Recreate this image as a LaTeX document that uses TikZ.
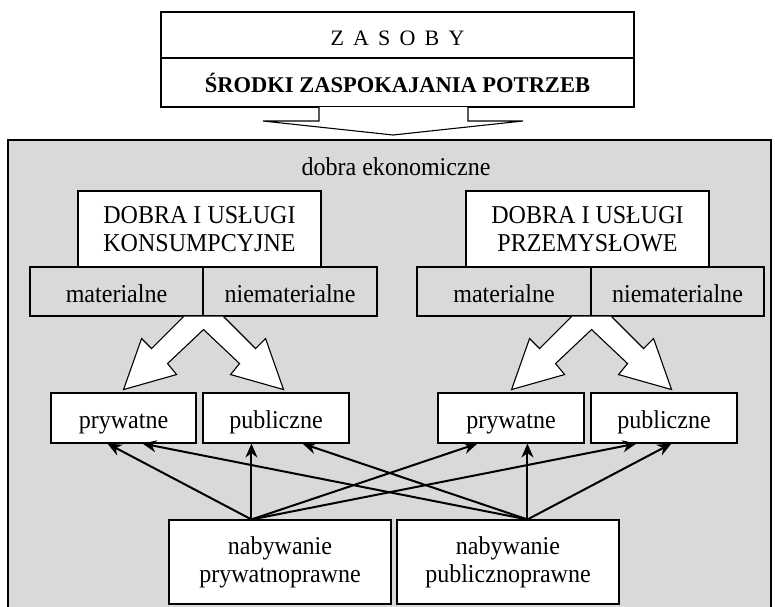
\documentclass[tikz,border=0pt]{standalone}
\usepackage{fontspec}
\setmainfont{Liberation Serif}
\newfontfamily\tallfont{Liberation Serif}[FakeStretch=0.935]
\usetikzlibrary{arrows.meta,calc}
\definecolor{bg}{HTML}{D9D9D9}
\newcommand\lsp{\hspace{9.2pt}}
\begin{document}
\begin{tikzpicture}[x=1pt,y=-1pt,
  box/.style={draw,line width=1.1pt,fill=white,inner sep=0pt,
    font=\tallfont\fontsize{25.7}{28}\selectfont,align=center},
  gbox/.style={box,fill=bg},
  onel/.style={text height=20pt,text depth=0pt},
  arr/.style={line width=2pt,-{Stealth[length=14pt,width=12pt,inset=4.5pt]}},
  fatpair/.pic={\draw[fill=white,line width=1.1pt,line join=miter]
    (-20,0) -- (-52,32) -- (-62,22) -- (-80,73) -- (-27,58) -- (-36,47) -- (0,13)
    -- (36,47) -- (27,58) -- (80,73) -- (62,22) -- (52,32) -- (20,0);}
  ]
\useasboundingbox (0,0) rectangle (775,606);
\fill[white] (0,0) rectangle (775,606);
\draw[line width=1.3pt,fill=bg] (8,140) rectangle (771,625);

% top
\node[box,minimum width=473pt,minimum height=46pt,onel,
  font=\fontsize{22}{26}\selectfont] (zas) at (397.5,35)
  {Z\lsp A\lsp S\lsp O\lsp B\lsp Y};
\node[box,minimum width=473pt,minimum height=49pt,
  font=\bfseries\fontsize{22.5}{27}\selectfont] (srod) at (397.5,82.5)
  {ŚRODKI ZASPOKAJANIA POTRZEB};
\draw[line width=1.1pt,fill=white] (319,107) -- (319,121) -- (263,121) -- (393,135)
  -- (523,121) -- (468,121) -- (468,107);

\node[font=\tallfont\fontsize{25.7}{28}\selectfont,anchor=base,inner sep=0pt] (dek) at (396,175)
  {dobra ekonomiczne};

% categories
\node[box,minimum width=243pt,minimum height=76pt] (kons) at (199.5,229)
  {DOBRA I USŁUGI\\KONSUMPCYJNE};
\node[box,minimum width=243pt,minimum height=76pt] (przem) at (587.5,229)
  {DOBRA I USŁUGI\\PRZEMYSŁOWE};

\node[gbox,onel,text height=21pt,minimum width=173pt,minimum height=49pt] (mat1) at (116.5,291.5) {materialne};
\node[gbox,onel,text height=21pt,minimum width=174pt,minimum height=49pt] (nmat1) at (290,291.5) {niematerialne};
\node[gbox,onel,text height=21pt,minimum width=174pt,minimum height=49pt] (mat2) at (504,291.5) {materialne};
\node[gbox,onel,text height=21pt,minimum width=173pt,minimum height=49pt] (nmat2) at (677.5,291.5) {niematerialne};

\pic at (mat1.south east) {fatpair};
\pic at (mat2.south east) {fatpair};

% targets
\node[box,onel,minimum width=145pt,minimum height=50pt] (priv1) at (123.5,418) {prywatne};
\node[box,onel,minimum width=146pt,minimum height=50pt] (pub1) at (276,418) {publiczne};
\node[box,onel,minimum width=146pt,minimum height=50pt] (priv2) at (511,418) {prywatne};
\node[box,onel,minimum width=146pt,minimum height=50pt] (pub2) at (664,418) {publiczne};

% sources
\node[box,minimum width=222pt,minimum height=84pt] (nprv) at (280,562) {nabywanie\\prywatnoprawne};
\node[box,minimum width=222pt,minimum height=84pt] (npub) at (508,562) {nabywanie\\publicznoprawne};

\coordinate (P) at ($(nprv.north west)+(83,0)$);
\coordinate (Q) at ($(npub.north west)+(131,0)$);

\draw[arr] (P) -- ($(priv1.south west)+(57,0)$);
\draw[arr] (Q) -- ($(priv1.south west)+(92,0)$);
\draw[arr] (P) -- ($(pub1.south west)+(49,0)$);
\draw[arr] (Q) -- ($(pub1.south west)+(100,0)$);
\draw[arr] (P) -- ($(priv2.south west)+(40,0)$);
\draw[arr] (Q) -- ($(priv2.south west)+(90,0)$);
\draw[arr] (P) -- ($(pub2.south west)+(46,0)$);
\draw[arr] (Q) -- ($(pub2.south west)+(81,0)$);
\end{tikzpicture}
\end{document}
